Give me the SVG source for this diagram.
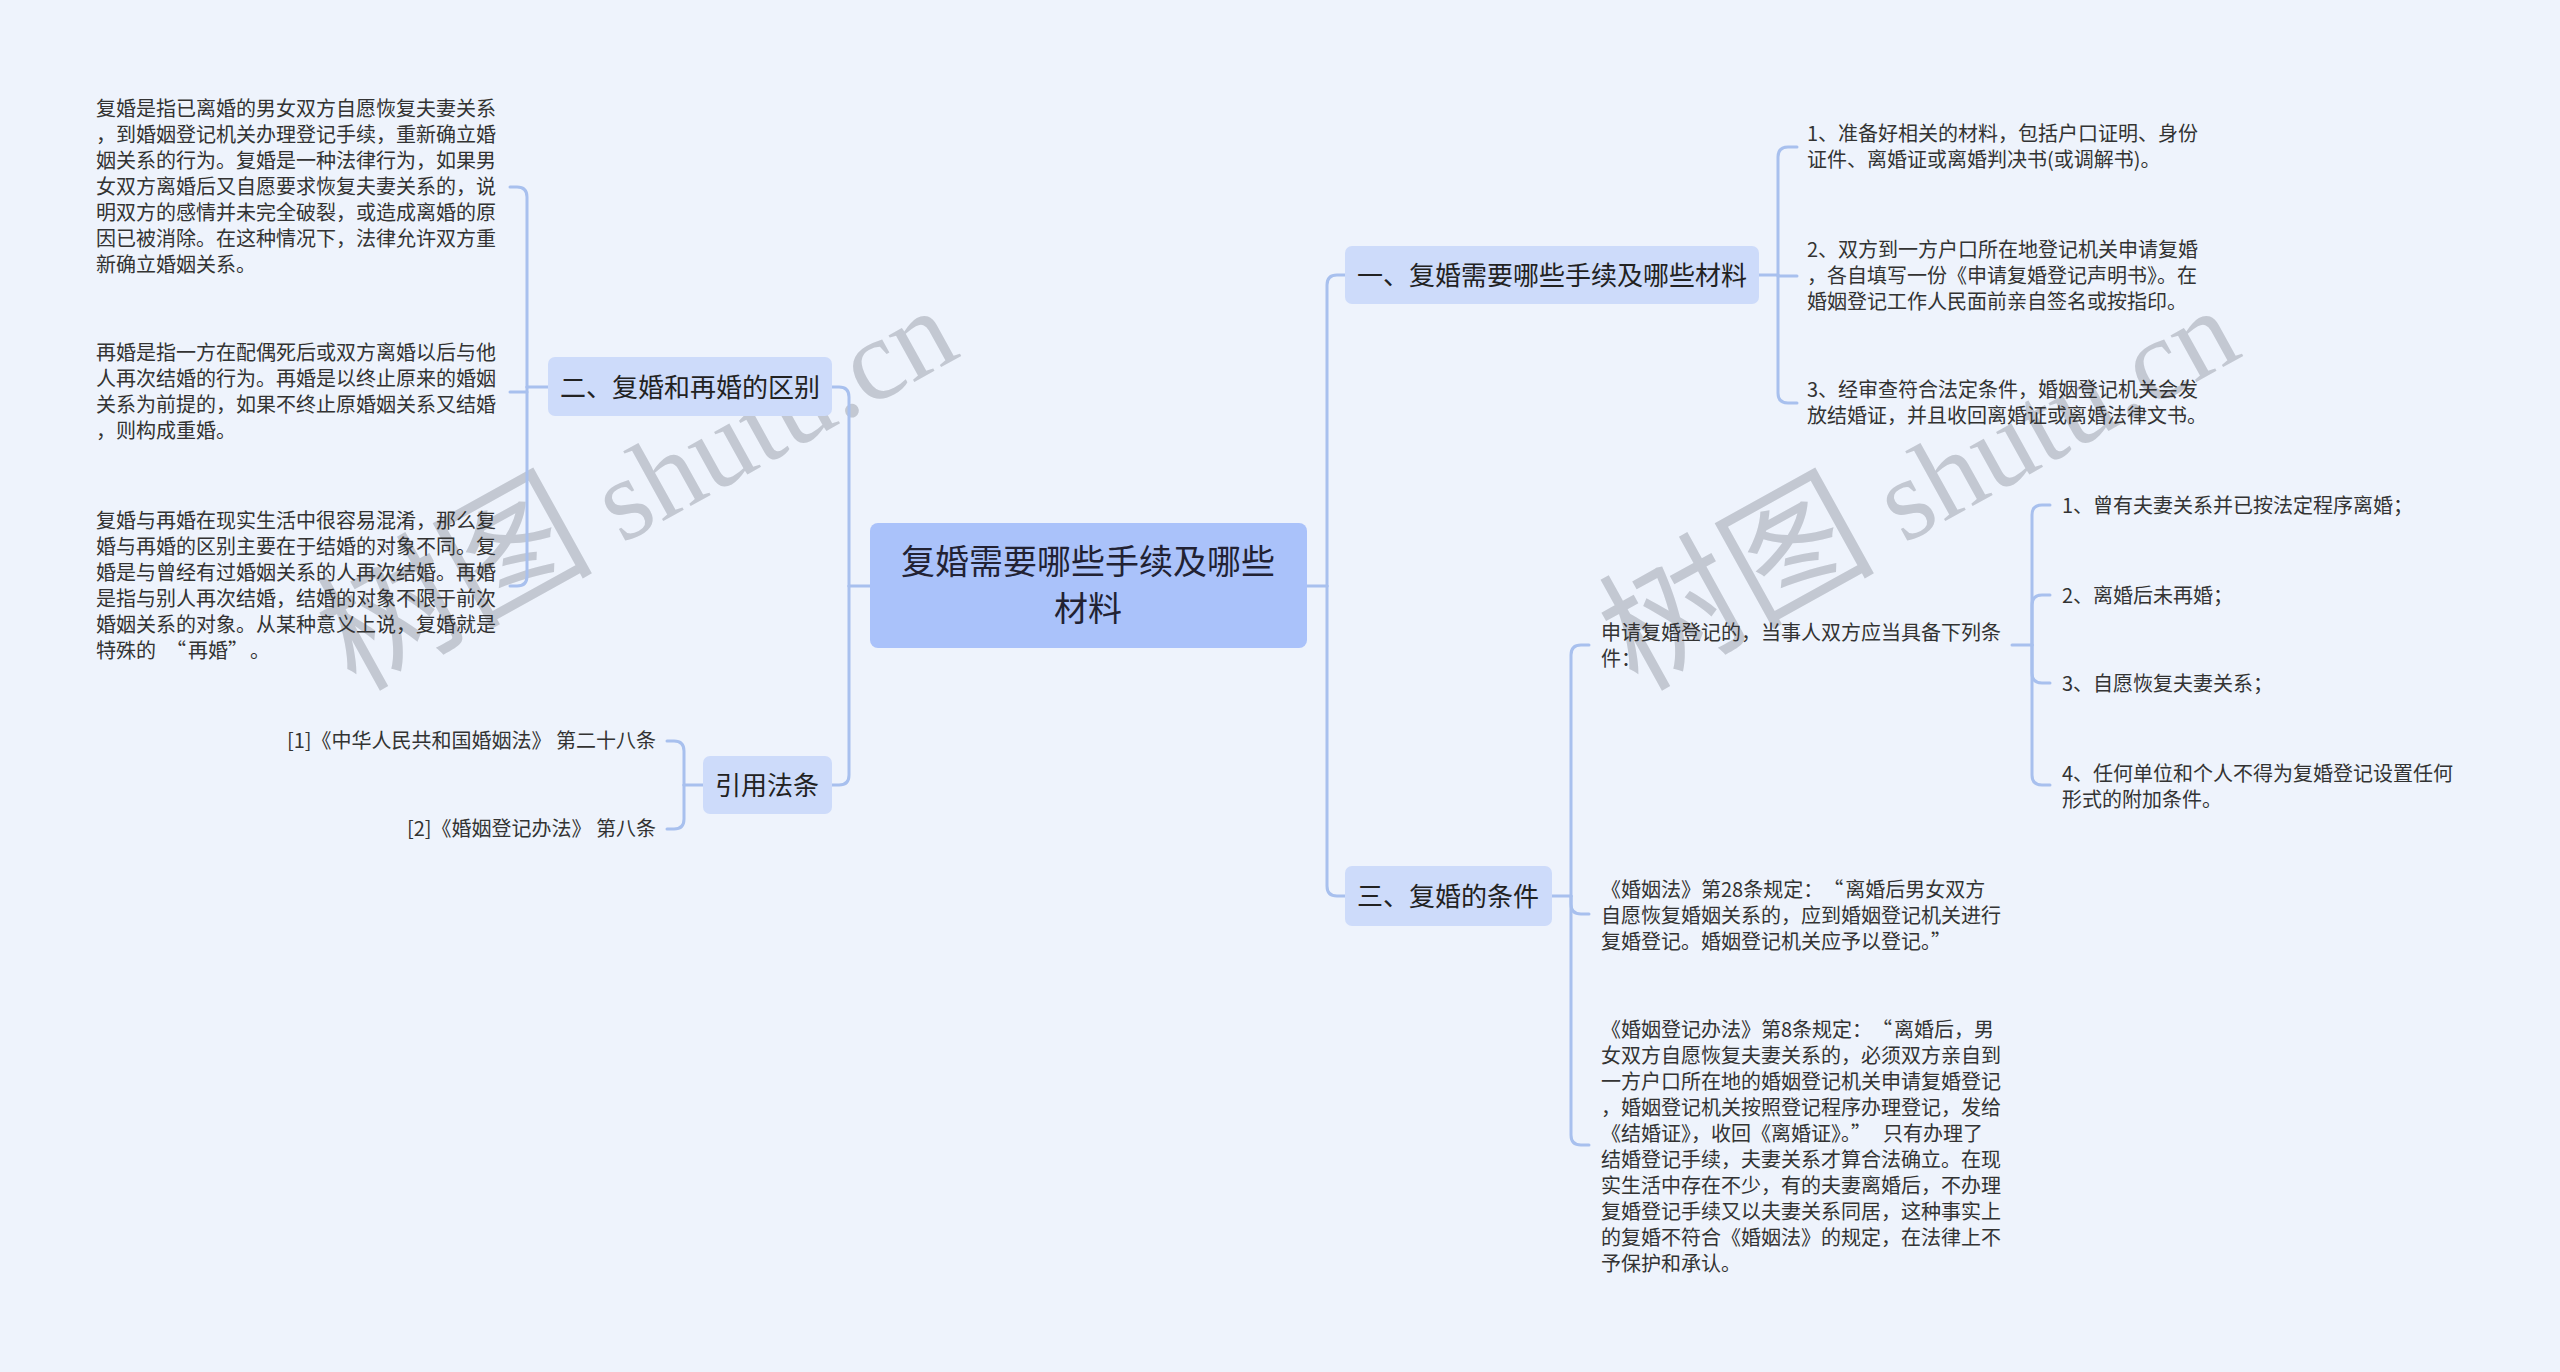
<svg xmlns="http://www.w3.org/2000/svg" width="2560" height="1372" viewBox="0 0 2560 1372">
<style>
.bg{fill:#eef3fc}
.root{fill:#aac2fa}
.sub{fill:#cddbfa}
.t{font-family:"Noto Sans CJK SC","Noto Sans",sans-serif;fill:#333333;font-size:20px}
.tn{font-family:"Noto Sans CJK SC","Noto Sans",sans-serif;fill:#222222;font-size:26px}
.tr{font-family:"Noto Sans CJK SC","Noto Sans",sans-serif;fill:#222233;font-size:34px}
.c{fill:none;stroke:#a8c0ee;stroke-width:3;stroke-linecap:round}
.wm{font-family:"Liberation Serif","Noto Sans CJK SC",serif;font-size:116px;fill:#c3c8d2}
.wmc{font-family:"Noto Sans CJK SC",sans-serif;font-size:138px}
</style>
<rect class="bg" x="0" y="0" width="2560" height="1372"/>
<g id="watermarks">
<text class="wm" x="355" y="692" transform="rotate(-29 355 692)"><tspan class="wmc">树图</tspan> shutu.cn</text>
<text class="wm" x="1637" y="692" transform="rotate(-29 1637 692)"><tspan class="wmc">树图</tspan> shutu.cn</text>
</g>
<g id="connectors">
<path class="c" d="M870,586 H849"/>
<path class="c" d="M849,586 V397 Q849,387 839,387 H832"/>
<path class="c" d="M849,586 V775 Q849,785 839,785 H832"/>
<path class="c" d="M548,387 H527"/>
<path class="c" d="M527,387 V197 Q527,187 517,187 H510"/>
<path class="c" d="M527,392 H510"/>
<path class="c" d="M527,387 V576 Q527,586 517,586 H510"/>
<path class="c" d="M703,785 H684"/>
<path class="c" d="M684,785 V751 Q684,741 674,741 H667"/>
<path class="c" d="M684,785 V819 Q684,829 674,829 H667"/>
<path class="c" d="M1307,586 H1327"/>
<path class="c" d="M1327,586 V285 Q1327,275 1337,275 H1345"/>
<path class="c" d="M1327,586 V886 Q1327,896 1337,896 H1345"/>
<path class="c" d="M1759,275 H1778"/>
<path class="c" d="M1778,275 V157 Q1778,147 1788,147 H1797"/>
<path class="c" d="M1778,276 H1797"/>
<path class="c" d="M1778,275 V393 Q1778,403 1788,403 H1797"/>
<path class="c" d="M1552,896 H1571"/>
<path class="c" d="M1571,896 V655 Q1571,645 1581,645 H1589"/>
<path class="c" d="M1571,896 V904 Q1571,914 1581,914 H1589"/>
<path class="c" d="M1571,896 V1135 Q1571,1145 1581,1145 H1589"/>
<path class="c" d="M2012,645 H2032"/>
<path class="c" d="M2032,645 V515 Q2032,505 2042,505 H2050"/>
<path class="c" d="M2032,645 V605 Q2032,595 2042,595 H2050"/>
<path class="c" d="M2032,645 V673 Q2032,683 2042,683 H2050"/>
<path class="c" d="M2032,645 V775 Q2032,785 2042,785 H2050"/>
</g>
<g id="root">
<rect class="root" x="870" y="523" width="437" height="125" rx="8"/>
<text class="tr" x="1088" y="574" text-anchor="middle">复婚需要哪些手续及哪些</text>
<text class="tr" x="1088" y="621" text-anchor="middle">材料</text>
</g>
<g id="node-er">
<rect class="sub" x="548" y="357" width="284" height="59" rx="7"/>
<text class="tn" x="690" y="397" text-anchor="middle">二、复婚和再婚的区别</text>
</g>
<g id="node-er-1">
<text class="t" x="96" y="116">复婚是指已离婚的男女双方自愿恢复夫妻关系</text>
<text class="t" x="96" y="142">，到婚姻登记机关办理登记手续，重新确立婚</text>
<text class="t" x="96" y="168">姻关系的行为。复婚是一种法律行为，如果男</text>
<text class="t" x="96" y="194">女双方离婚后又自愿要求恢复夫妻关系的，说</text>
<text class="t" x="96" y="220">明双方的感情并未完全破裂，或造成离婚的原</text>
<text class="t" x="96" y="246">因已被消除。在这种情况下，法律允许双方重</text>
<text class="t" x="96" y="272">新确立婚姻关系。</text>
</g>
<g id="node-er-2">
<text class="t" x="96" y="360">再婚是指一方在配偶死后或双方离婚以后与他</text>
<text class="t" x="96" y="386">人再次结婚的行为。再婚是以终止原来的婚姻</text>
<text class="t" x="96" y="412">关系为前提的，如果不终止原婚姻关系又结婚</text>
<text class="t" x="96" y="438">，则构成重婚。</text>
</g>
<g id="node-er-3">
<text class="t" x="96" y="528">复婚与再婚在现实生活中很容易混淆，那么复</text>
<text class="t" x="96" y="554">婚与再婚的区别主要在于结婚的对象不同。复</text>
<text class="t" x="96" y="580">婚是与曾经有过婚姻关系的人再次结婚。再婚</text>
<text class="t" x="96" y="606">是指与别人再次结婚，结婚的对象不限于前次</text>
<text class="t" x="96" y="632">婚姻关系的对象。从某种意义上说，复婚就是</text>
<text class="t" x="96" y="658">特殊的<tspan dx="10">“</tspan><tspan dx="2">再婚”</tspan><tspan dx="12">。</tspan></text>
</g>
<g id="node-cite">
<rect class="sub" x="703" y="756" width="129" height="58" rx="7"/>
<text class="tn" x="767" y="795" text-anchor="middle">引用法条</text>
</g>
<g id="node-cite-1">
<text class="t" x="656" y="748" text-anchor="end">[1]《中华人民共和国婚姻法》 第二十八条</text>
</g>
<g id="node-cite-2">
<text class="t" x="656" y="836" text-anchor="end">[2]《婚姻登记办法》 第八条</text>
</g>
<g id="node-yi">
<rect class="sub" x="1345" y="246" width="414" height="58" rx="7"/>
<text class="tn" x="1552" y="285" text-anchor="middle">一、复婚需要哪些手续及哪些材料</text>
</g>
<g id="node-yi-1">
<text class="t" x="1807" y="141">1、准备好相关的材料，包括户口证明、身份</text>
<text class="t" x="1807" y="167">证件、离婚证或离婚判决书(或调解书)。</text>
</g>
<g id="node-yi-2">
<text class="t" x="1807" y="257">2、双方到一方户口所在地登记机关申请复婚</text>
<text class="t" x="1807" y="283">，各自填写一份《申请复婚登记声明书》。在</text>
<text class="t" x="1807" y="309">婚姻登记工作人民面前亲自签名或按指印。</text>
</g>
<g id="node-yi-3">
<text class="t" x="1807" y="397">3、经审查符合法定条件，婚姻登记机关会发</text>
<text class="t" x="1807" y="423">放结婚证，并且收回离婚证或离婚法律文书。</text>
</g>
<g id="node-san">
<rect class="sub" x="1345" y="866" width="207" height="60" rx="7"/>
<text class="tn" x="1448" y="906" text-anchor="middle">三、复婚的条件</text>
</g>
<g id="node-san-1">
<text class="t" x="1601" y="640">申请复婚登记的，当事人双方应当具备下列条</text>
<text class="t" x="1601" y="666">件：</text>
</g>
<g id="node-cond-1"><text class="t" x="2062" y="513">1、曾有夫妻关系并已按法定程序离婚；</text></g>
<g id="node-cond-2"><text class="t" x="2062" y="603">2、离婚后未再婚；</text></g>
<g id="node-cond-3"><text class="t" x="2062" y="691">3、自愿恢复夫妻关系；</text></g>
<g id="node-cond-4">
<text class="t" x="2062" y="781">4、任何单位和个人不得为复婚登记设置任何</text>
<text class="t" x="2062" y="807">形式的附加条件。</text>
</g>
<g id="node-san-2">
<text class="t" x="1601" y="897">《婚姻法》第28条规定：<tspan dx="10">“</tspan><tspan dx="2">离婚后男女双方</tspan></text>
<text class="t" x="1601" y="923">自愿恢复婚姻关系的，应到婚姻登记机关进行</text>
<text class="t" x="1601" y="949">复婚登记。婚姻登记机关应予以登记。”</text>
</g>
<g id="node-san-3">
<text class="t" x="1601" y="1037">《婚姻登记办法》第8条规定：<tspan dx="10">“</tspan><tspan dx="2">离婚后，男</tspan></text>
<text class="t" x="1601" y="1063">女双方自愿恢复夫妻关系的，必须双方亲自到</text>
<text class="t" x="1601" y="1089">一方户口所在地的婚姻登记机关申请复婚登记</text>
<text class="t" x="1601" y="1115">，婚姻登记机关按照登记程序办理登记，发给</text>
<text class="t" x="1601" y="1141">《结婚证》，收回《离婚证》。”<tspan dx="12">只有办理了</tspan></text>
<text class="t" x="1601" y="1167">结婚登记手续，夫妻关系才算合法确立。在现</text>
<text class="t" x="1601" y="1193">实生活中存在不少，有的夫妻离婚后，不办理</text>
<text class="t" x="1601" y="1219">复婚登记手续又以夫妻关系同居，这种事实上</text>
<text class="t" x="1601" y="1245">的复婚不符合《婚姻法》的规定，在法律上不</text>
<text class="t" x="1601" y="1271">予保护和承认。</text>
</g>
</svg>
